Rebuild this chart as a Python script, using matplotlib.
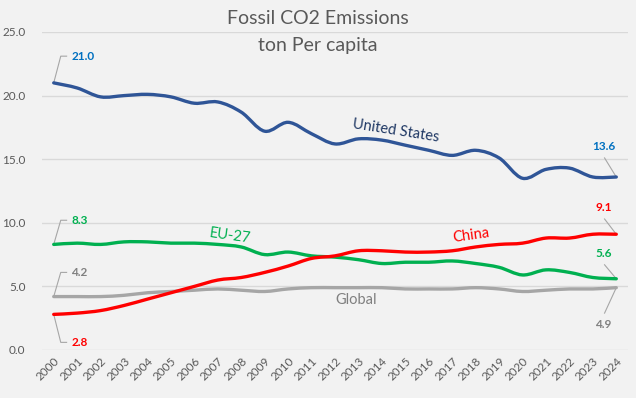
import numpy as np
import matplotlib
matplotlib.use('Agg')
import matplotlib.pyplot as plt
from matplotlib.path import Path
from matplotlib.patches import PathPatch

years = list(range(2000, 2025))
us = [21.0, 20.6, 19.9, 20.0, 20.1, 19.9, 19.4, 19.5, 18.7, 17.2, 17.9, 17.0, 16.2,
      16.6, 16.5, 16.1, 15.7, 15.3, 15.7, 15.1, 13.5, 14.2, 14.3, 13.6, 13.6]
china = [2.8, 2.9, 3.1, 3.5, 4.0, 4.5, 5.0, 5.5, 5.7, 6.1, 6.6, 7.2, 7.4,
         7.8, 7.8, 7.7, 7.7, 7.8, 8.1, 8.3, 8.4, 8.8, 8.8, 9.1, 9.1]
eu27 = [8.3, 8.4, 8.3, 8.5, 8.5, 8.4, 8.4, 8.3, 8.1, 7.5, 7.7, 7.4, 7.3,
        7.1, 6.8, 6.9, 6.9, 7.0, 6.8, 6.5, 5.9, 6.3, 6.1, 5.7, 5.6]
glob = [4.2, 4.2, 4.2, 4.3, 4.5, 4.6, 4.7, 4.8, 4.7, 4.6, 4.8, 4.9, 4.9,
        4.9, 4.9, 4.8, 4.8, 4.8, 4.9, 4.8, 4.6, 4.7, 4.8, 4.8, 4.9]
yticks = [0, 5, 10, 15, 20, 25]

plt.rcParams['font.family'] = ['Lato', 'DejaVu Sans']

BG = '#F2F2F2'


def smooth_path(x, y):
    # Catmull-Rom style bezier through the points, like Excel's smoothed lines
    x = np.asarray(x, float)
    y = np.asarray(y, float)
    verts = [(x[0], y[0])]
    codes = [Path.MOVETO]
    n = len(x)
    for i in range(n - 1):
        p0 = (x[i - 1], y[i - 1]) if i > 0 else (x[i], y[i])
        p1 = (x[i], y[i])
        p2 = (x[i + 1], y[i + 1])
        p3 = (x[i + 2], y[i + 2]) if i + 2 < n else (x[i + 1], y[i + 1])
        t = 1 / 6
        c1 = (p1[0] + (p2[0] - p0[0]) * t, p1[1] + (p2[1] - p0[1]) * t)
        c2 = (p2[0] - (p3[0] - p1[0]) * t, p2[1] - (p3[1] - p1[1]) * t)
        verts += [c1, c2, p2]
        codes += [Path.CURVE4] * 3
    return Path(verts, codes)


fig = plt.figure(figsize=(6.36, 3.98), dpi=100, facecolor=BG)
ax = fig.add_axes([42 / 636, 1 - 350 / 398, 586 / 636, 318 / 398])
ax.set_facecolor(BG)

xs = np.arange(len(years))
series = [
    (glob, '#A6A6A6'),
    (eu27, '#00B050'),
    (china, '#FF0000'),
    (us, '#2F5597'),
]
for vals, col in series:
    ax.add_patch(PathPatch(smooth_path(xs, vals), fill=False, edgecolor=col,
                           lw=2.4, capstyle='round', joinstyle='round', zorder=3))

ax.set_xlim(-0.5, len(years) - 0.5)
ax.set_ylim(0, 25)
ax.set_yticks(yticks)
ax.set_yticklabels([f'{v:.1f}' for v in yticks])
ax.set_xticks(xs)
ax.set_xticklabels([str(y) for y in years], rotation=45, ha='right',
                   rotation_mode='anchor')
ax.tick_params(axis='both', length=0, labelsize=8.5, colors='#595959')
ax.tick_params(axis='y', pad=12)
ax.tick_params(axis='x', pad=4)
ax.grid(axis='y', color='#D9D9D9', lw=1)
ax.set_axisbelow(True)
for s in ax.spines.values():
    s.set_visible(False)

fig.text(0.5, 1 - 19 / 398, 'Fossil CO2 Emissions', ha='center', va='center',
         fontsize=14, color='#595959')
fig.text(0.5, 1 - 45 / 398, 'ton Per capita', ha='center', va='center',
         fontsize=14, color='#595959')

# series names on the lines
ax.text(14.6, 17.2, 'United States', rotation=-9, color='#1F3864', fontsize=10.5,
        ha='center', va='center')
ax.text(17.8, 9.0, 'China', rotation=8, color='#FF0000', fontsize=10.5,
        ha='center', va='center')
ax.text(7.5, 9.0, 'EU-27', rotation=-8, color='#00B050', fontsize=10.5,
        ha='center', va='center')
ax.text(12.9, 3.95, 'Global', color='#808080', fontsize=10.5, ha='center', va='center')

# value labels with leader lines
lead = dict(color='#A6A6A6', lw=0.8, zorder=2)
left_labels = [(us, '#0070C0', 2.1), (eu27, '#00B050', 1.9), (glob, '#808080', 1.9),
               (china, '#FF0000', -2.2)]
for vals, col, dy in left_labels:
    y0 = vals[0]
    ax.plot([0, 0.3, 0.55], [y0, y0 + dy, y0 + dy], **lead)
    ax.text(0.75, y0 + dy, f'{y0:.1f}', color=col, fontsize=8.5, fontweight='bold',
            ha='left', va='center')

right_labels = [(us, '#0070C0', 1.5), (china, '#FF0000', 1.2), (eu27, '#00B050', 1.1),
                (glob, '#808080', -2.0)]
for vals, col, dy in right_labels:
    y1 = vals[-1]
    ax.plot([24, 23.5], [y1, y1 + dy], **lead)
    ty = y1 + dy + (0.9 if dy > 0 else -0.9)
    ax.text(23.45, ty, f'{y1:.1f}', color=col, fontsize=8.5, fontweight='bold',
            ha='center', va='center')

fig.savefig('out.png', dpi=100, facecolor=BG)
